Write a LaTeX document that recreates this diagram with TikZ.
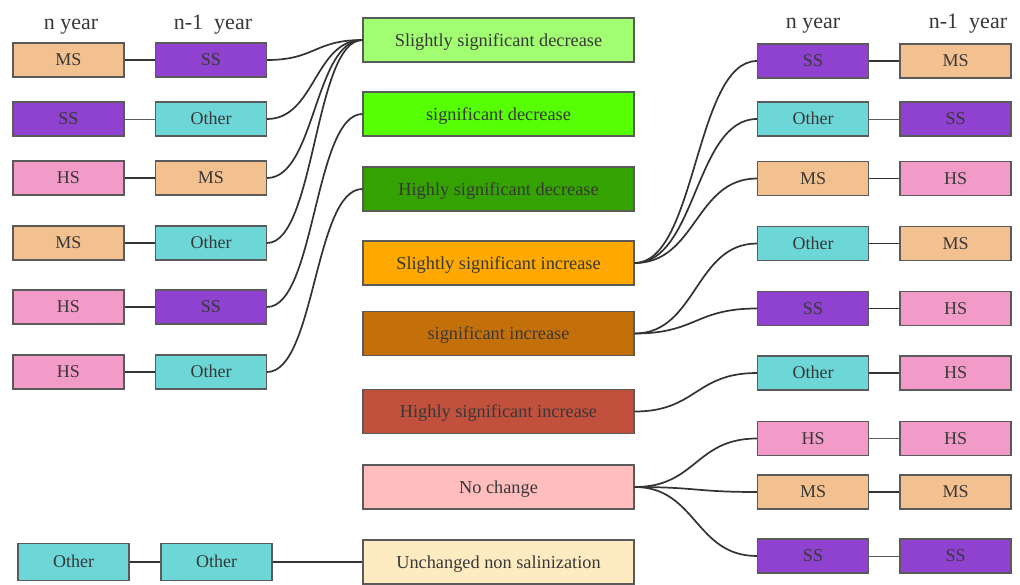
\documentclass[tikz,border=0pt]{standalone}
\usepackage{fontspec}
\setmainfont{Liberation Serif}
\definecolor{cMS}{HTML}{F3C18F}
\definecolor{cSS}{HTML}{8E42CF}
\definecolor{cOT}{HTML}{6DD6D7}
\definecolor{cHS}{HTML}{F29AC8}
\definecolor{cSSD}{HTML}{A2FF72}
\definecolor{cSD}{HTML}{57FF05}
\definecolor{cHSD}{HTML}{34A200}
\definecolor{cSSI}{HTML}{FFA900}
\definecolor{cSI}{HTML}{C4700A}
\definecolor{cHSI}{HTML}{C1513C}
\definecolor{cNC}{HTML}{FFBDBE}
\definecolor{cUN}{HTML}{FFEBC1}
\definecolor{txt}{HTML}{383838}
\definecolor{bord}{HTML}{5A5A5A}
\definecolor{wire}{HTML}{333333}
\tikzset{
  cls/.style={draw=bord, line width=1.1pt, rectangle, inner sep=0pt,
    minimum width=111pt, minimum height=34pt, text=txt,
    font=\fontsize{18}{20}\selectfont, text height=11.9pt, text depth=0pt},
  cat/.style={draw=bord, line width=1.1pt, rectangle, inner sep=0pt,
    minimum width=271pt, minimum height=44pt, text=txt,
    font=\fontsize{18.3}{21}\selectfont, text height=12.1pt, text depth=0pt},
  hdr/.style={anchor=base, text=txt, font=\fontsize{22}{24}\selectfont, inner sep=0pt},
  wireline/.style={draw=wire, line width=1.7pt},
  thinwire/.style={draw=wire!80, line width=1pt},
}
\begin{document}
\begin{tikzpicture}[x=1pt,y=-1pt]
\useasboundingbox (0,0) rectangle (1020,584);
\fill[white] (0,0) rectangle (1020,584);
% headers
\node[hdr] (hL1) at (71,29) {n year};
\node[hdr] (hL2) at (213,29) {n-1\ \ year};
\node[hdr] (hR1) at (813,28) {n year};
\node[hdr] (hR2) at (968,28) {n-1\ \ year};
% middle categories
\node[cat, fill=cSSD] (ssd) at (498.5,40) {Slightly significant decrease};
\node[cat, fill=cSD]  (sd)  at (498.5,114) {significant decrease};
\node[cat, fill=cHSD] (hsd) at (498.5,189) {Highly significant decrease};
\node[cat, fill=cSSI] (ssi) at (498.5,263) {Slightly significant increase};
\node[cat, fill=cSI]  (si)  at (498.5,333.5) {significant increase};
\node[cat, fill=cHSI] (hsi) at (498.5,411.5) {Highly significant increase};
\node[cat, fill=cNC]  (nc)  at (498.5,487) {No change};
\node[cat, fill=cUN]  (un)  at (498.5,562) {Unchanged non salinization};
% left side
\node[cls, fill=cMS] (l1a) at (68.5,60) {MS};
\node[cls, fill=cSS] (l1b) at (211,60) {SS};
\node[cls, fill=cSS] (l2a) at (68.5,119) {SS};
\node[cls, fill=cOT] (l2b) at (211,119) {Other};
\node[cls, fill=cHS] (l3a) at (68.5,178) {HS};
\node[cls, fill=cMS] (l3b) at (211,178) {MS};
\node[cls, fill=cMS] (l4a) at (68.5,243) {MS};
\node[cls, fill=cOT] (l4b) at (211,243) {Other};
\node[cls, fill=cHS] (l5a) at (68.5,307) {HS};
\node[cls, fill=cSS] (l5b) at (211,307) {SS};
\node[cls, fill=cHS] (l6a) at (68.5,372) {HS};
\node[cls, fill=cOT] (l6b) at (211,372) {Other};
\node[cls, fill=cOT, minimum height=37pt] (l7a) at (73.5,562) {Other};
\node[cls, fill=cOT, minimum height=37pt] (l7b) at (216.5,562) {Other};
% right side
\node[cls, fill=cSS] (r1a) at (813,61) {SS};
\node[cls, fill=cMS] (r1b) at (955.5,61) {MS};
\node[cls, fill=cOT] (r2a) at (813,119) {Other};
\node[cls, fill=cSS] (r2b) at (955.5,119) {SS};
\node[cls, fill=cMS] (r3a) at (813,178.5) {MS};
\node[cls, fill=cHS] (r3b) at (955.5,178.5) {HS};
\node[cls, fill=cOT] (r4a) at (813,243.5) {Other};
\node[cls, fill=cMS] (r4b) at (955.5,243.5) {MS};
\node[cls, fill=cSS] (r5a) at (813,308.5) {SS};
\node[cls, fill=cHS] (r5b) at (955.5,308.5) {HS};
\node[cls, fill=cOT] (r6a) at (813,373) {Other};
\node[cls, fill=cHS] (r6b) at (955.5,373) {HS};
\node[cls, fill=cHS] (r7a) at (813,438.5) {HS};
\node[cls, fill=cHS] (r7b) at (955.5,438.5) {HS};
\node[cls, fill=cMS] (r8a) at (813,492) {MS};
\node[cls, fill=cMS] (r8b) at (955.5,492) {MS};
\node[cls, fill=cSS] (r9a) at (813,556) {SS};
\node[cls, fill=cSS] (r9b) at (955.5,556) {SS};
% pair links
\draw[wireline] (l1a) -- (l1b);
\draw[thinwire] (l2a) -- (l2b);
\draw[wireline] (l3a) -- (l3b);
\draw[wireline] (l4a) -- (l4b);
\draw[wireline] (l5a) -- (l5b);
\draw[wireline] (l6a) -- (l6b);
\draw[wireline] (l7a) -- (l7b);
\draw[wireline] (r1a) -- (r1b);
\draw[thinwire] (r2a) -- (r2b);
\draw[wireline] (r3a) -- (r3b);
\draw[wireline] (r4a) -- (r4b);
\draw[wireline] (r5a) -- (r5b);
\draw[wireline] (r6a) -- (r6b);
\draw[thinwire] (r7a) -- (r7b);
\draw[wireline] (r8a) -- (r8b);
\draw[thinwire] (r9a) -- (r9b);
% left curves
\draw[wireline] (l1b.east) .. controls +(48,0) and +(-48,0) .. (ssd.west);
\draw[wireline] (l2b.east) .. controls +(48,0) and +(-48,0) .. (ssd.west);
\draw[wireline] (l3b.east) .. controls +(48,0) and +(-48,0) .. (ssd.west);
\draw[wireline] (l4b.east) .. controls +(48,0) and +(-48,0) .. (ssd.west);
\draw[wireline] (l5b.east) .. controls +(48,0) and +(-48,0) .. (sd.west);
\draw[wireline] (l6b.east) .. controls +(48,0) and +(-48,0) .. (hsd.west);
\draw[wireline] (l7b.east) -- (un.west);
% right curves
\draw[wireline] (ssi.east) .. controls +(62,0) and +(-62,0) .. (r1a.west);
\draw[wireline] (ssi.east) .. controls +(62,0) and +(-62,0) .. (r2a.west);
\draw[wireline] (ssi.east) .. controls +(62,0) and +(-62,0) .. (r3a.west);
\draw[wireline] (si.east) .. controls +(62,0) and +(-62,0) .. (r4a.west);
\draw[wireline] (si.east) .. controls +(62,0) and +(-62,0) .. (r5a.west);
\draw[wireline] (hsi.east) .. controls +(62,0) and +(-62,0) .. (r6a.west);
\draw[wireline] (nc.east) .. controls +(62,0) and +(-62,0) .. (r7a.west);
\draw[wireline] (nc.east) .. controls +(62,0) and +(-62,0) .. (r8a.west);
\draw[wireline] (nc.east) .. controls +(62,0) and +(-62,0) .. (r9a.west);
\end{tikzpicture}
\end{document}
